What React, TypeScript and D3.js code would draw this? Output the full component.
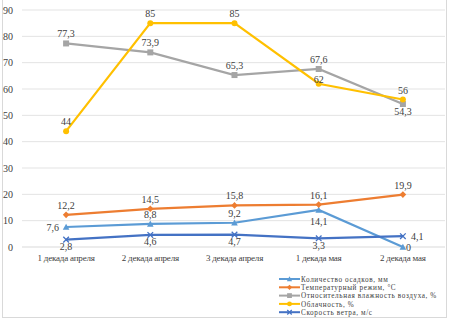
import React from "react";
import * as d3 from "d3";

const categories = ["1 декада апреля", "2 декада апреля", "3 декада апреля", "1 декада мая", "2 декада мая"];
const precipitation = [7.6, 8.8, 9.2, 14.1, 0];
const temperature = [12.2, 14.5, 15.8, 16.1, 19.9];
const humidity = [77.3, 73.9, 65.3, 67.6, 54.3];
const cloudiness = [44, 85, 85, 62, 56];
const wind = [2.8, 4.6, 4.7, 3.3, 4.1];
const yTicks = [0, 10, 20, 30, 40, 50, 60, 70, 80, 90];
const seriesNames = [
  "Количество осадков, мм",
  "Температурный режим, °С",
  "Относительная влажность воздуха, %",
  "Облачность, %",
  "Скорость ветра, м/с",
];
// label placement per point: a=above, b=below, l=left, r=right
const precipPos = ["l", "a", "a", "b2", "r"];
const tempPos = ["a", "a", "a", "a", "a"];
const humPos = ["a", "a", "a", "a", "b"];
const cloudPos = ["a", "a", "a", "a2", "a"];
const windPos = ["b", "b", "b", "b", "r"];

const font = "'Liberation Serif', 'DejaVu Serif', 'Times New Roman', serif";

type Series = { name: string; values: number[]; color: string; marker: string; pos: string[] };

const series: Series[] = [
  { name: seriesNames[0], values: precipitation, color: "#5B9BD5", marker: "triangle", pos: precipPos },
  { name: seriesNames[1], values: temperature, color: "#ED7D31", marker: "diamond", pos: tempPos },
  { name: seriesNames[2], values: humidity, color: "#A5A5A5", marker: "square", pos: humPos },
  { name: seriesNames[3], values: cloudiness, color: "#FFC000", marker: "circle", pos: cloudPos },
  { name: seriesNames[4], values: wind, color: "#4472C4", marker: "x", pos: windPos },
];

function Marker({ type, x, y, color, s = 1 }: { type: string; x: number; y: number; color: string; s?: number }) {
  if (type === "square") return <rect x={x - 3 * s} y={y - 3 * s} width={6 * s} height={6 * s} fill={color} />;
  if (type === "circle") return <circle cx={x} cy={y} r={3 * s} fill={color} />;
  if (type === "diamond")
    return <path d={`M${x},${y - 3.3 * s}L${x + 3.3 * s},${y}L${x},${y + 3.3 * s}L${x - 3.3 * s},${y}Z`} fill={color} />;
  if (type === "triangle")
    return <path d={`M${x},${y - 3.3 * s}L${x + 3.3 * s},${y + 2.8 * s}L${x - 3.3 * s},${y + 2.8 * s}Z`} fill={color} />;
  return (
    <path
      d={`M${x - 2.8 * s},${y - 2.8 * s}L${x + 2.8 * s},${y + 2.8 * s}M${x - 2.8 * s},${y + 2.8 * s}L${x + 2.8 * s},${y - 2.8 * s}`}
      stroke={color}
      strokeWidth={1.3}
    />
  );
}

export default function App() {
  const W = 449, H = 319;
  const x = d3.scaleBand<string>().domain(categories).range([24, 445]);
  const y = d3.scaleLinear().domain([0, 90]).range([247, 10]);
  const cx = (i: number) => (x(categories[i]) as number) + x.bandwidth() / 2;
  const line = d3.line<number>().x((_, i) => cx(i)).y((d) => y(d));
  const fmt = (v: number) => String(v).replace(".", ",");
  const ts: React.CSSProperties = { fontFamily: font };

  return (
    <svg width={W} height={H} style={{ position: "absolute", left: 0, top: 0, fontFamily: font }}>
      <rect x={0} y={0} width={W} height={H} fill="#fff" />
      <rect x={2.5} y={-1} width={444} height={318.5} fill="none" stroke="#D9D9D9" />
      {yTicks.map((t) => (
        <g key={t}>
          <line x1={22} x2={445} y1={y(t)} y2={y(t)} stroke={t === 0 ? "#D9D9D9" : "#E3E3E3"} />
          <text x={13} y={y(t) + 3.5} fontSize={10} textAnchor="end" fill="#404040" style={ts}>
            {t}
          </text>
        </g>
      ))}
      {categories.map((c, i) => (
        <text key={c} x={cx(i)} y={260.5} fontSize={9} textAnchor="middle" fill="#404040" letterSpacing={-0.2} style={ts}>
          {c}
        </text>
      ))}
      {series.map((s) => (
        <g key={s.name}>
          <path d={line(s.values) as string} fill="none" stroke={s.color} strokeWidth={2.2} />
          {s.values.map((v, i) => (
            <Marker key={i} type={s.marker} x={cx(i)} y={y(v)} color={s.color} />
          ))}
        </g>
      ))}
      {series.map((s) => (
        <g key={s.name + "l"}>
          {s.values.map((v, i) => {
            const p = s.pos[i];
            let tx = cx(i), ty = y(v), anchor = "middle";
            if (p === "a") ty -= 6;
            else if (p === "a2") ty -= 1;
            else if (p === "b") ty += 10.5;
            else if (p === "b2") ty += 15;
            else if (p === "l") { tx -= 7; ty += 4; anchor = "end"; }
            else if (p === "r") { tx += s.marker === "x" ? 8 : 3; ty += 4; anchor = "start"; }
            return (
              <text key={i} x={tx} y={ty} fontSize={10} textAnchor={anchor} fill="#404040" style={ts}>
                {fmt(v)}
              </text>
            );
          })}
        </g>
      ))}
      {series.map((s, i) => {
        const ly = 279 + i * 8.3;
        return (
          <g key={s.name + "g"}>
            <line x1={279} x2={300} y1={ly} y2={ly} stroke={s.color} strokeWidth={2} />
            <Marker type={s.marker} x={289.5} y={ly} color={s.color} s={0.8} />
            <text x={301} y={ly + 2.6} fontSize={7.2} fill="#404040" letterSpacing={0.6} style={ts}>
              {s.name}
            </text>
          </g>
        );
      })}
    </svg>
  );
}
